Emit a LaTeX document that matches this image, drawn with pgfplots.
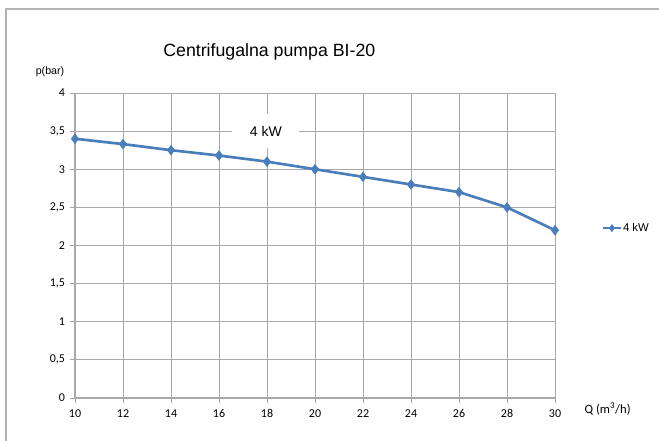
\documentclass[border=0pt]{standalone}
\usepackage{pgfplots}
\pgfplotsset{compat=1.18}
\usepackage{fontspec}
\setmainfont{Liberation Sans}
\newfontfamily\calibri{Carlito}
\definecolor{serblue}{HTML}{4A7EBB}
\definecolor{gridgray}{HTML}{A8A8A8}
\definecolor{framegray}{HTML}{B4B4B4}
\begin{document}
\begin{tikzpicture}
% page = 659 x 441 px, 1px = 0.75pt
\useasboundingbox (0,0) rectangle (494.25pt,330.75pt);
\draw[framegray, line width=1.5pt] (4.5pt,0) -- (4.5pt,324pt) -- (494.25pt,324pt);
\node[font=\fontsize{13.3}{15}\selectfont] at (202pt,292pt) {Centrifugalna pumpa BI-20};
\node[font=\fontsize{8}{10}\selectfont] at (37.5pt,276.75pt) {p(bar)};
\node[font=\calibri\fontsize{9.5}{11}\selectfont, anchor=west] at (435pt,24pt) {Q (m\textsuperscript{3}/h)};
\begin{axis}[
	at={(56.25pt,32.25pt)}, anchor=south west,
	scale only axis,
	width=360pt, height=228.75pt,
	xmin=10, xmax=30, ymin=0, ymax=4,
	xtick={10,12,...,30},
	ytick={0,0.5,...,4},
	grid=major,
	grid style={gridgray, line width=0.6pt},
	axis lines=left,
	axis line style={gridgray, line width=0.8pt, -},
	tick align=outside,
	major tick length=4pt,
	tick style={gridgray, line width=0.6pt},
	ticklabel style={font=\calibri\fontsize{9}{11}\selectfont},
	/pgf/number format/assume math mode=true,
	/pgf/number format/use comma,
	yticklabel style={/pgf/number format/fixed},
	xticklabel style={yshift=-1pt},
	legend style={at={(axis description cs:1.097,0.557)}, anchor=west,
		draw=none, fill=none, font=\fontsize{8.5}{10}\selectfont,
		inner sep=0pt, legend cell align=left,
		nodes={inner sep=0.8pt}},
	legend image code/.code={
		\draw[#1, line width=1.6pt] (0pt,0pt) -- (13.5pt,0pt);
		\draw[#1, mark size=2.6pt] plot coordinates {(6.75pt,0pt)};
	},
]
\addplot[serblue, line width=2pt, mark=diamond*, mark size=3.6pt,
	mark options={solid, fill=serblue, line width=0.5pt}] coordinates {
(10, 3.40)
(12, 3.33)
(14, 3.25)
(16, 3.18)
(18, 3.10)
(20, 3.00)
(22, 2.90)
(24, 2.80)
(26, 2.70)
(28, 2.50)
(30, 2.20)
};
\addlegendentry{4 kW}
\node[fill=white, minimum width=50pt, minimum height=26pt,
	font=\fontsize{10.5}{12}\selectfont] at (axis cs:17.95,3.5) {4 kW};
\end{axis}
\end{tikzpicture}
\end{document}
